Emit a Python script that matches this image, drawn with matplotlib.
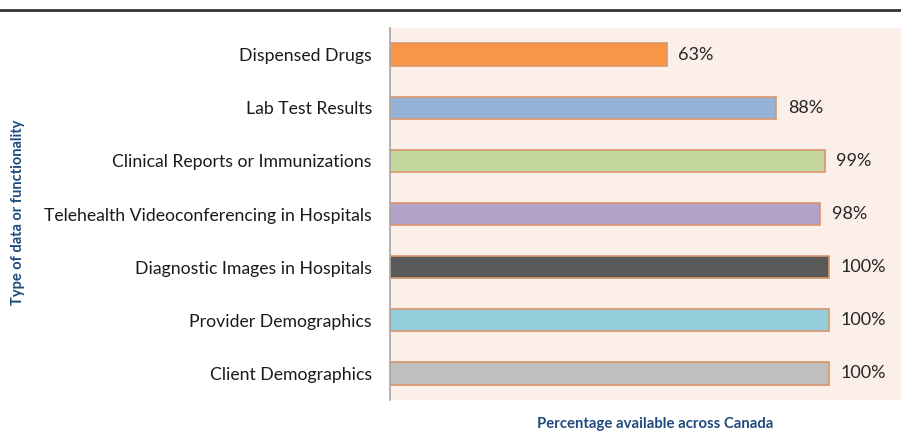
import matplotlib.pyplot as plt
from matplotlib.lines import Line2D

# data
categories = ['Dispensed Drugs', 'Lab Test Results', 'Clinical Reports or Immunizations',
              'Telehealth Videoconferencing in Hospitals', 'Diagnostic Images in Hospitals',
              'Provider Demographics', 'Client Demographics']
values = [63, 88, 99, 98, 100, 100, 100]
colors = ['#F79646', '#95B3D7', '#C3D69B', '#B3A2C7', '#595959', '#92CDDC', '#BFBFBF']

plt.rcParams['font.family'] = ['Lato', 'DejaVu Sans']

fig = plt.figure(figsize=(9.01, 4.32), dpi=100)
ax = fig.add_axes([390 / 901, 1 - 400 / 432, 511 / 901, 372 / 432])
ax.set_facecolor('#FCEEE8')

ypos = list(range(len(categories)))
ax.barh(ypos, values, height=0.42, color=colors, edgecolor='#D9956A', linewidth=1.2)
for y, v in zip(ypos, values):
    ax.text(v + 2.7, y, f'{v}%', va='center', ha='left', fontsize=13, color='#262626')

ax.set_yticks(ypos)
ax.set_yticklabels(categories, fontsize=12.7, color='#1a1a1a')
ax.set_ylim(len(categories) - 0.5, -0.5)
ax.set_xlim(0, 116.4)
ax.set_xticks([])
ax.tick_params(axis='y', length=0, pad=13)
for s in ['top', 'right', 'bottom']:
    ax.spines[s].set_visible(False)
ax.spines['left'].set_color('#A6A6A6')
ax.spines['left'].set_linewidth(1.2)

ax.set_xlabel('Percentage available across Canada', fontsize=10.7, fontweight='bold',
              color='#1F497D')
ax.xaxis.set_label_coords((655 - 390) / 511, -0.045)
fig.text(18 / 901, 1 - 212 / 432, 'Type of data or functionality', rotation=90,
         fontsize=10.5, fontweight='bold', color='#1F497D', ha='center', va='center')

fig.add_artist(Line2D([0, 1], [1 - 9.5 / 432, 1 - 9.5 / 432], color='#333333', linewidth=2))

fig.savefig('out.png', dpi=100)
